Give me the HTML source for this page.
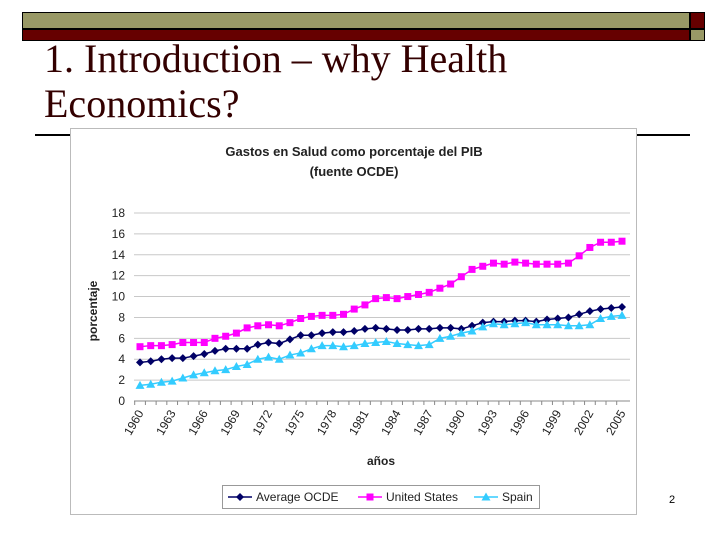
<!DOCTYPE html>
<html><head><meta charset="utf-8"><style>
body{margin:0;width:720px;height:540px;background:#fff;position:relative;overflow:hidden;font-family:"Liberation Sans",sans-serif}
.abs{position:absolute}
</style></head><body>
<div class="abs" style="left:22px;top:12px;width:668px;height:17px;background:#999966;border:1px solid #000;box-sizing:border-box"></div>
<div class="abs" style="left:22px;top:29px;width:668px;height:12px;background:#660000;border:1px solid #000;box-sizing:border-box"></div>
<div class="abs" style="left:690px;top:12px;width:15px;height:17px;background:#660000;border:1px solid #000;box-sizing:border-box"></div>
<div class="abs" style="left:690px;top:29px;width:15px;height:12px;background:#999966;border:1px solid #000;box-sizing:border-box"></div>
<div class="abs" style="left:44px;top:36px;font-family:'Liberation Serif',serif;font-size:40px;line-height:45px;color:#330000;white-space:nowrap">1. Introduction – why Health<br>Economics?</div>
<div class="abs" style="left:35px;top:134px;width:655px;height:2px;background:#000"></div>
<div class="abs" style="left:669px;top:494px;font-size:11px">2</div>
<svg class="abs" style="left:0;top:0" width="720" height="540" id="chart"></svg>
<script>
const years=[];for(let y=1960;y<=2005;y++)years.push(y);
const avgOCDE=[3.7,3.8,4.0,4.1,4.1,4.3,4.5,4.8,5.0,5.0,5.0,5.4,5.6,5.5,5.9,6.3,6.3,6.5,6.6,6.6,6.7,6.9,7.0,6.9,6.8,6.8,6.9,6.9,7.0,7.0,6.9,7.2,7.5,7.6,7.6,7.7,7.7,7.6,7.8,7.9,8.0,8.3,8.6,8.8,8.9,9.0];
const usa=[5.2,5.3,5.3,5.4,5.6,5.6,5.6,6.0,6.2,6.5,7.0,7.2,7.3,7.2,7.5,7.9,8.1,8.2,8.2,8.3,8.8,9.2,9.8,9.9,9.8,10.0,10.2,10.4,10.8,11.2,11.9,12.6,12.9,13.2,13.1,13.3,13.2,13.1,13.1,13.1,13.2,13.9,14.7,15.2,15.2,15.3];
const spain=[1.5,1.6,1.8,1.9,2.2,2.5,2.7,2.9,3.0,3.3,3.5,4.0,4.2,4.0,4.4,4.6,5.0,5.3,5.3,5.2,5.3,5.5,5.6,5.7,5.5,5.4,5.3,5.4,6.0,6.2,6.5,6.7,7.1,7.4,7.3,7.4,7.5,7.3,7.3,7.3,7.2,7.2,7.3,7.9,8.1,8.2];
const yTicks=[0,2,4,6,8,10,12,14,16,18];
const svg=document.getElementById('chart');const NS='http://www.w3.org/2000/svg';
function mk(t,a,p){const e=document.createElementNS(NS,t);for(const k in a)e.setAttribute(k,a[k]);(p||svg).appendChild(e);return e;}
const X0=140,X1=622,Y0=401,Y1=213;
const xs=i=>X0+(X1-X0)*i/(years.length-1);
const ys=v=>Y0-(Y0-Y1)*v/18;
let e=mk('rect',{x:70.5,y:128.5,width:566,height:386,fill:'#fff',stroke:'#bbb'});


e=mk('text',{x:354,y:156,'text-anchor':'middle','font-size':'13','font-weight':'bold',fill:'#222'});e.textContent='Gastos en Salud como porcentaje del PIB';


e=mk('text',{x:354,y:176,'text-anchor':'middle','font-size':'13','font-weight':'bold',fill:'#222'});e.textContent='(fuente OCDE)';


yTicks.forEach(v=>{const y=ys(v);
 if(v>0){e=mk('line',{x1:134,x2:630,y1:y,y2:y,stroke:'#c8c8c8'});
 
 }
 e=mk('text',{x:125,y:y+4,'text-anchor':'end','font-size':'12',fill:'#222'});e.textContent=v;
 
 
});
e=mk('line',{x1:134,x2:630,y1:Y0,y2:Y0,stroke:'#888'});


years.forEach((yr,i)=>{const x=xs(i);
 e=mk('line',{x1:x-5.3,x2:x-5.3,y1:Y0,y2:Y0+4,stroke:'#888'});
 
 
 if(i%3===0){e=mk('text',{x:x+4,y:Y0+12,'text-anchor':'end','font-size':'12',fill:'#222',transform:`rotate(-60 ${x+4} ${Y0+12})`});e.textContent=yr;
 
 }
});
e=mk('text',{x:381,y:465,'text-anchor':'middle','font-size':'12','font-weight':'bold',fill:'#222'});e.textContent='años';


e=mk('text',{x:97,y:311,'text-anchor':'middle','font-size':'12','font-weight':'bold',fill:'#222',transform:'rotate(-90 97 311)'});e.textContent='porcentaje';


function marker(shape,x,y,c,p){let m;
 if(shape==='d')m=mk('polygon',{points:`${x},${y-4} ${x+4},${y} ${x},${y+4} ${x-4},${y}`,fill:c},p);
 else if(shape==='s')m=mk('rect',{x:x-3.5,y:y-3.5,width:7,height:7,fill:c},p);
 else m=mk('polygon',{points:`${x},${y-4.5} ${x+4.5},${y+3.5} ${x-4.5},${y+3.5}`,fill:c},p);
 return m;}
const series=[[avgOCDE,'#000066','d','series-average-ocde'],[usa,'#ff00ff','s','series-united-states'],[spain,'#33ccff','t','series-spain']];
series.forEach(([d,c,s,n])=>{const g=mk('g',{});
 
 
 mk('polyline',{points:d.map((v,i)=>xs(i)+','+ys(v)).join(' '),fill:'none',stroke:c,'stroke-width':1.5},g);
 d.forEach((v,i)=>{const m=marker(s,xs(i),ys(v),c,g);
  
  });
});
const lg=mk('g',{});


mk('rect',{x:222.5,y:485.5,width:317,height:23,fill:'#fff',stroke:'#999'},lg);
[['Average OCDE','#000066','d',228],['United States','#ff00ff','s',358],['Spain','#33ccff','t',474]].forEach(([t,c,s,x])=>{
 const g=mk('g',{},lg);
 
 
 mk('line',{x1:x,x2:x+24,y1:497,y2:497,stroke:c,'stroke-width':1.5},g);
 marker(s,x+12,497,c,g);
 const tx=mk('text',{x:x+28,y:501,'font-size':'12',fill:'#222'},g);tx.textContent=t;
});
</script>
</body></html>
